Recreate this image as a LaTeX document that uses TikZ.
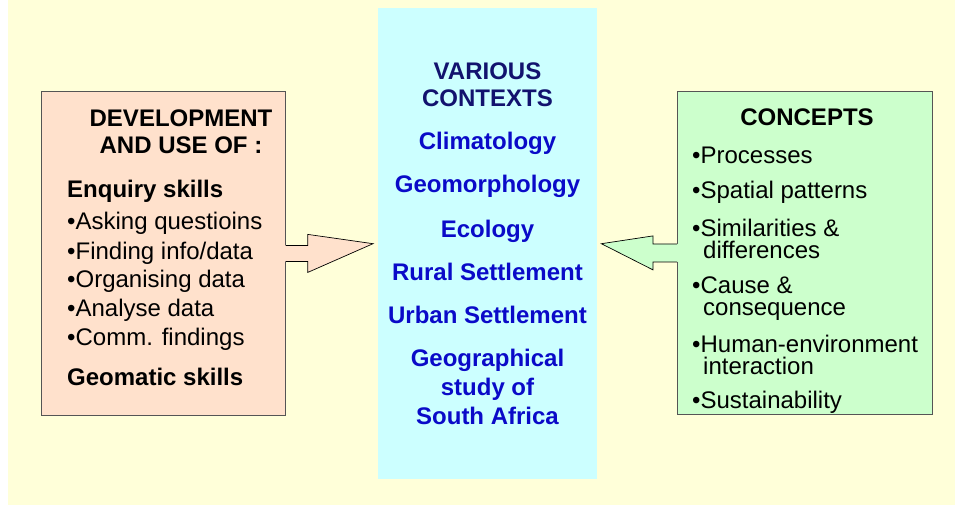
\documentclass[tikz,border=0pt]{standalone}
\usepackage{fontspec}
\setmainfont{Liberation Sans}
\usetikzlibrary{calc}
\definecolor{bgy}{HTML}{FFFFD9}
\definecolor{peach}{HTML}{FFE1CC}
\definecolor{mint}{HTML}{CCFFCC}
\definecolor{aqua}{HTML}{CCFFFF}
\definecolor{navy}{HTML}{12126E}
\definecolor{ctxblue}{HTML}{0A0AC8}
\definecolor{edge}{HTML}{555555}
\tikzset{
  panel/.style={draw=edge, line width=0.8pt, inner sep=0, anchor=north west},
  txt/.style={inner sep=0, font=\fontsize{24}{28}\selectfont},
  lbl/.style={txt, anchor=base west},
  blbl/.style={txt, anchor=base west, font=\fontsize{24}{28}\selectfont\bfseries},
  hdr/.style={txt, anchor=base, font=\fontsize{24}{28}\selectfont\bfseries},
  blockarrow/.style={draw=black, line width=0.7pt, line join=miter}
}
\begin{document}
\begin{tikzpicture}[x=1pt,y=-1pt]
\useasboundingbox (0,0) rectangle (955,505);
\fill[bgy] (8,0) rectangle (955,505);
% panels
\node[inner sep=0, anchor=north west, fill=aqua, minimum width=219pt, minimum height=471pt] (C) at (378,8) {};
\node[panel, fill=peach, minimum width=244pt, minimum height=324pt] (L) at (41,91) {};
\node[panel, fill=mint, minimum width=255pt, minimum height=323pt] (R) at (677,91) {};
% left arrow
\fill[peach] ($(L.east)+(-1,-8)$) -- ($(L.east)+(22,-8)$) -- ($(L.east)+(22,-19)$)
  -- ($(C.west)+(-5,0)$) -- ($(L.east)+(22,19)$) -- ($(L.east)+(22,8)$) -- ($(L.east)+(-1,8)$) -- cycle;
\draw[blockarrow] ($(L.east)+(0,-8)$) -- ($(L.east)+(22,-8)$) -- ($(L.east)+(22,-19)$)
  -- ($(C.west)+(-5,0)$) -- ($(L.east)+(22,19)$) -- ($(L.east)+(22,8)$) -- ($(L.east)+(0,8)$);
% right arrow
\fill[mint] ($(R.west)+(1,-9)$) -- ($(R.west)+(-24,-9)$) -- ($(R.west)+(-24,-17)$)
  -- ($(C.east)+(4,0)$) -- ($(R.west)+(-24,17)$) -- ($(R.west)+(-24,9)$) -- ($(R.west)+(1,9)$) -- cycle;
\draw[blockarrow] ($(R.west)+(0,-9)$) -- ($(R.west)+(-24,-9)$) -- ($(R.west)+(-24,-17)$)
  -- ($(C.east)+(4,0)$) -- ($(R.west)+(-24,17)$) -- ($(R.west)+(-24,9)$) -- ($(R.west)+(0,9)$);
% left text
\node[hdr] (l1) at (181,127) {DEVELOPMENT};
\node[hdr] (l2) at (181,154) {AND USE OF :};
\node[blbl] (l3) at (67,197) {Enquiry skills};
\node[lbl] (l4) at (67,229) {•Asking questioins};
\node[lbl] (l5) at (67,259) {•Finding info/data};
\node[lbl] (l6) at (67,287) {•Organising data};
\node[lbl] (l7) at (67,316) {•Analyse data};
\node[lbl] (l8) at (67,345) {•Comm. findings};
\node[blbl] (l9) at (67,385) {Geomatic skills};
% centre text
\begin{scope}[every node/.style={hdr, text=ctxblue}]
\node[text=navy] (c1) at (487.5,80) {VARIOUS};
\node[text=navy] (c2) at (487.5,107) {CONTEXTS};
\node (c3) at (487.5,150) {Climatology};
\node (c4) at (487.5,193) {Geomorphology};
\node (c5) at (487.5,237) {Ecology};
\node (c6) at (487.5,280) {Rural Settlement};
\node (c7) at (487.5,323) {Urban Settlement};
\node (c8) at (487.5,366) {Geographical};
\node (c9) at (487.5,395) {study of};
\node (c10) at (487.5,424) {South Africa};
\end{scope}
% right text
\node[hdr] (r0) at (807,126) {CONCEPTS};
\node[lbl] (r1) at (692,164) {•Processes};
\node[lbl] (r2) at (692,199) {•Spatial patterns};
\node[lbl] (r3) at (692,236) {•Similarities \&};
\node[lbl] (r3b) at (703,258) {differences};
\node[lbl] (r4) at (692,293) {•Cause \&};
\node[lbl] (r4b) at (703,315) {consequence};
\node[lbl] (r5) at (692,352) {•Human-environment};
\node[lbl] (r5b) at (703,374) {interaction};
\node[lbl] (r6) at (692,408) {•Sustainability};
\end{tikzpicture}
\end{document}
